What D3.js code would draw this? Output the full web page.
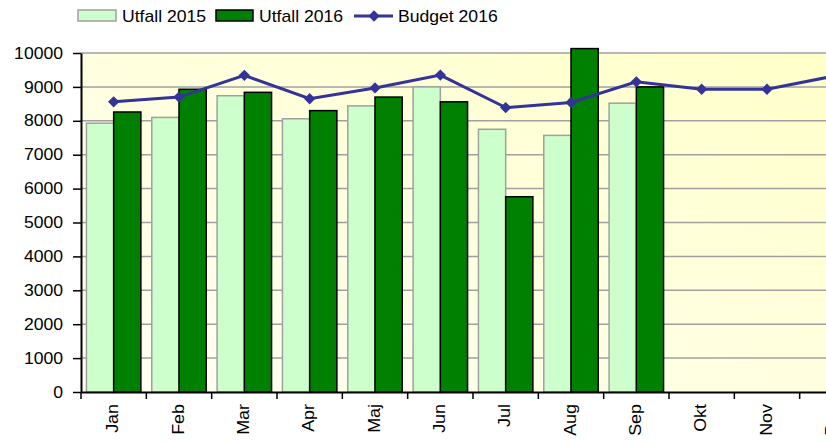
<!DOCTYPE html>
<html>
<head>
<meta charset="utf-8">
<script src="https://cdn.jsdelivr.net/npm/d3@7"></script>
<style>
  body { margin: 0; background: #fff; }
  svg { display: block; font-family: "Liberation Sans", Arial, sans-serif; }
</style>
</head>
<body>
<svg id="chart" width="826" height="442"></svg>
<script>
var months = ["Jan", "Feb", "Mar", "Apr", "Maj", "Jun", "Jul", "Aug", "Sep", "Okt", "Nov", "Dec"];
var utfall2015 = [7930, 8100, 8740, 8060, 8440, 9000, 7750, 7570, 8520];
var utfall2016 = [8260, 8930, 8840, 8300, 8700, 8560, 5760, 10130, 9000];
var budget2016 = [8560, 8700, 9340, 8650, 8970, 9350, 8390, 8540, 9150, 8930, 8930, 9310];
var yTicks = [0, 1000, 2000, 3000, 4000, 5000, 6000, 7000, 8000, 9000, 10000];

var svg = d3.select("#chart");
var plotLeft = 81, plotRight = 865, plotTop = 53, plotBottom = 392;
var sx = 1.1; // text is a bit stretched in the original

var x = d3.scaleBand().domain(months).range([plotLeft, plotRight]);
var x1 = d3.scaleBand().domain(["2015", "2016"]).range([0, x.bandwidth()]).paddingOuter(0.2);
var y = d3.scaleLinear().domain([0, 10000]).range([plotBottom, plotTop]);

// background
var defs = svg.append("defs");
var grad = defs.append("linearGradient").attr("id", "bg")
  .attr("x1", "0").attr("y1", "1").attr("x2", "1").attr("y2", "0");
grad.append("stop").attr("offset", "0%").attr("stop-color", "#fffff6");
grad.append("stop").attr("offset", "100%").attr("stop-color", "#ffffc8");

svg.append("rect")
  .attr("x", plotLeft).attr("y", plotTop)
  .attr("width", plotRight - plotLeft).attr("height", plotBottom - plotTop)
  .attr("fill", "url(#bg)");

// gridlines
svg.append("g").selectAll("line")
  .data(yTicks.slice(1))
  .join("line")
  .attr("x1", plotLeft).attr("x2", plotRight)
  .attr("y1", function(d) { return y(d); })
  .attr("y2", function(d) { return y(d); })
  .attr("stroke", "#a0a0a0")
  .attr("stroke-width", 1.5);

// bars
var g2015 = svg.append("g");
g2015.selectAll("rect")
  .data(utfall2015)
  .join("rect")
  .attr("x", function(d, i) { return x(months[i]) + x1("2015"); })
  .attr("y", function(d) { return y(d); })
  .attr("width", x1.bandwidth())
  .attr("height", function(d) { return y(0) - y(d); })
  .attr("fill", "#ccffcc")
  .attr("stroke", "#a0a0a0")
  .attr("stroke-width", 1.5);

var g2016 = svg.append("g");
g2016.selectAll("rect")
  .data(utfall2016)
  .join("rect")
  .attr("x", function(d, i) { return x(months[i]) + x1("2016"); })
  .attr("y", function(d) { return y(d); })
  .attr("width", x1.bandwidth())
  .attr("height", function(d) { return y(0) - y(d); })
  .attr("fill", "#008000")
  .attr("stroke", "#000")
  .attr("stroke-width", 1.5);

// budget line
var line = d3.line()
  .x(function(d, i) { return x(months[i]) + x.bandwidth() / 2; })
  .y(function(d) { return y(d); });

svg.append("path")
  .datum(budget2016)
  .attr("d", line)
  .attr("fill", "none")
  .attr("stroke", "#333399")
  .attr("stroke-width", 3);

var diamond = d3.symbol().type(d3.symbolSquare).size(64);
svg.append("g").selectAll("path")
  .data(budget2016)
  .join("path")
  .attr("d", diamond)
  .attr("transform", function(d, i) {
    return "translate(" + (x(months[i]) + x.bandwidth() / 2) + "," + y(d) + ") rotate(45)";
  })
  .attr("fill", "#333399");

// y axis
var yAxis = svg.append("g")
  .attr("transform", "translate(" + plotLeft + ",0)")
  .call(d3.axisLeft(y).tickValues(yTicks).tickFormat(d3.format("d"))
    .tickSizeInner(8).tickSizeOuter(0).tickPadding(10));
yAxis.select(".domain").attr("stroke", "#000").attr("stroke-width", 2);
yAxis.selectAll(".tick line").attr("stroke", "#000").attr("stroke-width", 1.5);
yAxis.selectAll(".tick text")
  .attr("x", null)
  .attr("transform", "translate(-18,0) scale(" + sx + ",1)")
  .attr("font-size", 16)
  .attr("fill", "#000")
  .attr("font-family", "Liberation Sans, Arial, sans-serif");

// x axis
var xAxis = svg.append("g")
  .attr("transform", "translate(0," + plotBottom + ")")
  .call(d3.axisBottom(x).tickSize(0).tickPadding(0));
xAxis.select(".domain").attr("stroke", "#000").attr("stroke-width", 2);
xAxis.selectAll(".tick text")
  .attr("y", null).attr("dy", "0.3em")
  .attr("transform", "translate(0,12) rotate(-90) scale(1.12,1)")
  .attr("text-anchor", "end")
  .attr("font-size", 16)
  .attr("fill", "#000")
  .attr("font-family", "Liberation Sans, Arial, sans-serif");

// category boundary ticks
xAxis.append("g").selectAll("line")
  .data(months)
  .join("line")
  .attr("x1", function(d) { return x(d); })
  .attr("x2", function(d) { return x(d); })
  .attr("y1", 0).attr("y2", 7)
  .attr("stroke", "#000")
  .attr("stroke-width", 1.5);

// legend
var legend = svg.append("g");
legend.append("rect").attr("x", 78).attr("y", 10).attr("width", 38).attr("height", 11)
  .attr("fill", "#ccffcc").attr("stroke", "#a0a0a0").attr("stroke-width", 1.5);
legend.append("rect").attr("x", 216).attr("y", 10).attr("width", 37).attr("height", 11)
  .attr("fill", "#008000").attr("stroke", "#000").attr("stroke-width", 1.5);
legend.append("line").attr("x1", 354).attr("x2", 393).attr("y1", 16).attr("y2", 16)
  .attr("stroke", "#333399").attr("stroke-width", 3);
legend.append("path").attr("d", diamond).attr("transform", "translate(374,16) rotate(45)").attr("fill", "#333399");

var legendLabels = [["Utfall 2015", 122], ["Utfall 2016", 259], ["Budget 2016", 398]];
legend.selectAll("text")
  .data(legendLabels)
  .join("text")
  .attr("transform", function(d) { return "translate(" + d[1] + ",22) scale(" + sx + ",1)"; })
  .attr("font-size", 16)
  .attr("fill", "#000")
  .text(function(d) { return d[0]; });
</script>
</body>
</html>
